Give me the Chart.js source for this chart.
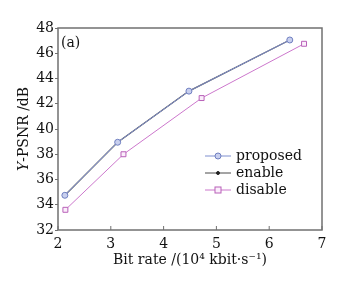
<!DOCTYPE html>
<html>
<head>
<meta charset="utf-8">
<script src="https://cdn.jsdelivr.net/npm/chart.js@4/dist/chart.umd.min.js"></script>
<style>
  html, body { margin: 0; padding: 0; background: #fff; }
  #wrap { width: 342px; height: 287px; }
</style>
</head>
<body>
<div id="wrap"><canvas id="c" width="342" height="287"></canvas></div>
<script>
// values
const seriesNames = ['proposed', 'enable', 'disable'];
const bitRateProposed = [2.13, 3.13, 4.48, 6.39];
const psnrProposed = [34.75, 38.95, 43.0, 47.05];
const bitRateEnable = [2.13, 3.13, 4.48, 6.39];
const psnrEnable = [34.75, 38.95, 43.0, 47.05];
const bitRateDisable = [2.14, 3.24, 4.72, 6.66];
const psnrDisable = [33.6, 38.0, 42.45, 46.75];
const xTicks = [2, 3, 4, 5, 6, 7];
const yTicks = [32, 34, 36, 38, 40, 42, 44, 46, 48];

const FONT = "'DejaVu Serif', 'Liberation Serif', serif";
const FS = 14;
const INK = '#111';

function pts(xs, ys) {
    return xs.map((x, i) => ({ x: x, y: ys[i] }));
}

// frame, inner x ticks, panel label, y title and legend
const decor = {
    id: 'decor',
    afterDraw(chart) {
        const ctx = chart.ctx;
        const a = chart.chartArea;
        const xs = chart.scales.x;
        ctx.save();
        ctx.strokeStyle = '#707070';
        ctx.lineWidth = 1.5;
        ctx.strokeRect(a.left, a.top, a.right - a.left, a.bottom - a.top);
        ctx.lineWidth = 1;
        xTicks.forEach(v => {
            const px = xs.getPixelForValue(v);
            ctx.beginPath();
            ctx.moveTo(px, a.bottom);
            ctx.lineTo(px, a.bottom - 4);
            ctx.stroke();
        });

        ctx.fillStyle = INK;
        ctx.font = FS + 'px ' + FONT;
        ctx.textBaseline = 'middle';
        ctx.textAlign = 'left';
        ctx.fillText('(a)', a.left + 3, a.top + 15);

        // y title with italic Y
        ctx.save();
        ctx.translate(24, (a.top + a.bottom) / 2);
        ctx.rotate(-Math.PI / 2);
        ctx.font = 'italic ' + FS + 'px ' + FONT;
        const w1 = ctx.measureText('Y').width;
        ctx.font = FS + 'px ' + FONT;
        const w2 = ctx.measureText('-PSNR /dB').width;
        let sx = -(w1 + w2) / 2;
        ctx.font = 'italic ' + FS + 'px ' + FONT;
        ctx.fillText('Y', sx, 0);
        ctx.font = FS + 'px ' + FONT;
        ctx.fillText('-PSNR /dB', sx + w1, 0);
        ctx.restore();

        // legend
        const lx = 205, ly = 156, step = 17;
        chart.data.datasets.forEach((ds, i) => {
            const y = ly + i * step;
            ctx.strokeStyle = ds.borderColor;
            ctx.lineWidth = 1;
            ctx.beginPath();
            ctx.moveTo(lx, y);
            ctx.lineTo(lx + 26, y);
            ctx.stroke();
            const mx = lx + 13;
            ctx.strokeStyle = ds.pointBorderColor;
            ctx.fillStyle = ds.pointBackgroundColor;
            if (ds.pointStyle === 'rect') {
                ctx.fillRect(mx - 3, y - 3, 6, 6);
                ctx.strokeRect(mx - 3, y - 3, 6, 6);
            } else {
                ctx.beginPath();
                ctx.arc(mx, y, ds.pointRadius, 0, Math.PI * 2);
                ctx.fill();
                ctx.stroke();
            }
            ctx.fillStyle = INK;
            ctx.font = FS + 'px ' + FONT;
            ctx.textAlign = 'left';
            ctx.fillText(ds.label, lx + 31, y);
        });
        ctx.restore();
    }
};

new Chart(document.getElementById('c'), {
    type: 'line',
    data: {
        datasets: [
            {
                label: seriesNames[0],
                data: pts(bitRateProposed, psnrProposed),
                borderColor: '#7f8fcf',
                borderWidth: 1,
                pointStyle: 'circle',
                pointRadius: 3,
                pointBorderColor: '#6f7fc0',
                pointBackgroundColor: '#c8cfee',
                pointBorderWidth: 1
            },
            {
                label: seriesNames[1],
                data: pts(bitRateEnable, psnrEnable),
                borderColor: '#4a4a4a',
                borderWidth: 1.2,
                pointStyle: 'circle',
                pointRadius: 1.5,
                pointBorderColor: '#222',
                pointBackgroundColor: '#222',
                pointBorderWidth: 1
            },
            {
                label: seriesNames[2],
                data: pts(bitRateDisable, psnrDisable),
                borderColor: '#cc77cc',
                borderWidth: 1,
                pointStyle: 'rect',
                pointRadius: 3.5,
                pointBorderColor: '#b860b8',
                pointBackgroundColor: '#fbeefb',
                pointBorderWidth: 1
            }
        ]
    },
    options: {
        responsive: false,
        animation: false,
        layout: { padding: { left: 0, right: 20, top: 28, bottom: 0 } },
        plugins: {
            legend: { display: false },
            tooltip: { enabled: false }
        },
        scales: {
            x: {
                type: 'linear',
                min: 2,
                max: 7,
                afterBuildTicks: s => { s.ticks = xTicks.map(v => ({ value: v })); },
                afterFit: s => { s.height = 57; },
                grid: { display: false, drawTicks: false },
                border: { display: false },
                ticks: {
                    color: INK,
                    padding: 6,
                    font: { family: FONT, size: FS }
                },
                title: {
                    display: true,
                    text: 'Bit rate /(10\u2074 kbit\u00b7s\u207b\u00b9)',
                    color: INK,
                    padding: { top: 0, bottom: 18 },
                    font: { family: FONT, size: FS }
                }
            },
            y: {
                min: 32,
                max: 48,
                afterBuildTicks: s => { s.ticks = yTicks.map(v => ({ value: v })); },
                afterFit: s => { s.width = 58; },
                grid: { drawOnChartArea: false, tickLength: 3, color: '#707070' },
                border: { display: false },
                ticks: {
                    color: INK,
                    padding: 1,
                    font: { family: FONT, size: FS }
                }
            }
        }
    },
    plugins: [decor]
});
</script>
</body>
</html>
